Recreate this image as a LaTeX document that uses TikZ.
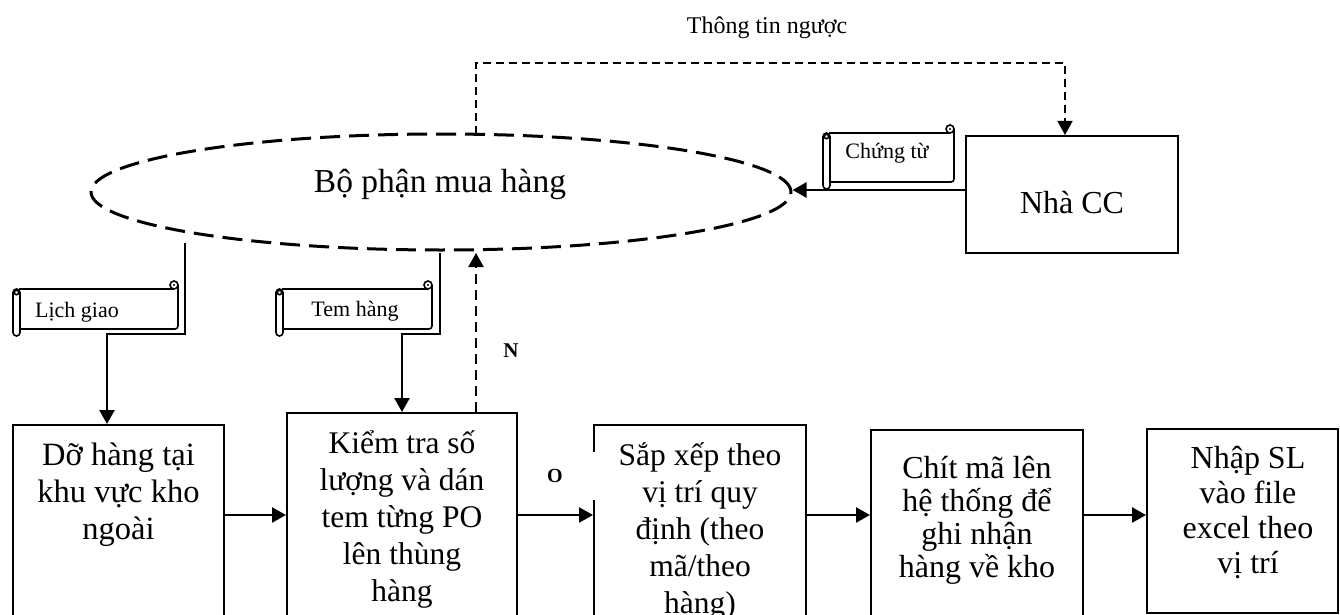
\documentclass[tikz,border=0pt]{standalone}
\usepackage{fontspec}
\setmainfont{Liberation Serif}
\usetikzlibrary{arrows.meta,shapes.geometric}
\newcommand\mlines[1]{\vtop{\lineskiplimit=-100pt\halign{\hfil##\hfil\cr#1\crcr}}}
\newcommand\scrollshape[4]{%
  \draw[scr] (#1+6,#2) -- (#3-4,#2);
  \draw[scr] (#3-4,#2-4) circle[radius=4];
  \fill (#3-4,#2-4) circle[radius=1.2];
  \draw[scr,rounded corners=3] (#3,#2-4) -- (#3,#4) -- (#1+7,#4);
  \draw[scr,rounded corners=3.5] (#1,#2) rectangle (#1+7,#4+7);
  \draw[scr] (#1+3.5,#2+3.5) circle[radius=2.2];
}
\begin{document}
\begin{tikzpicture}[x=1pt,y=-1pt,
  box/.style={draw,line width=2pt,inner sep=0pt,rectangle},
  txt/.style={anchor=base,inner sep=0pt},
  bigf/.style={font=\fontsize{31.5}{37}\selectfont},
  smallf/.style={font=\fontsize{22}{26}\selectfont},
  arr/.style={line width=2.5pt,-{Triangle[length=14pt,width=15pt]}},
  narr/.style={line width=2pt,dash pattern=on 10pt off 6pt,-{Triangle[length=14pt,width=15pt]}},
  fb/.style={line width=1.5pt,dash pattern=on 8pt off 5pt,-{Triangle[length=14pt,width=15pt]}},
  scr/.style={line width=1.6pt},
  ell/.style={draw,ellipse,line width=3pt,dash pattern=on 20pt off 9pt,inner sep=0pt}]
\useasboundingbox (0,0) rectangle (1340,615);

% main nodes
\node[ell,minimum width=700,minimum height=116] (dept) at (441,192) {};
\node[txt,font=\fontsize{33.5}{38}\selectfont] (deptt) at (440,192) {Bộ phận mua hàng};
\node[box,minimum width=212,minimum height=117] (ncc) at (1072,194.5) {};
\node[txt,font=\fontsize{32}{38}\selectfont] (ncct) at (1072,213) {Nhà CC};

\node[box,minimum width=211,minimum height=215] (b1) at (118.5,532.5) {};
\node[box,minimum width=230,minimum height=227] (b2) at (402,526.5) {};
\node[box,minimum width=212,minimum height=215] (b3) at (700,532.5) {};
\fill[white] (589,452) rectangle (599,500);
\node[box,minimum width=212,minimum height=210] (b4) at (977,535) {};
\node[box,minimum width=191,minimum height=184] (b5) at (1242.5,521) {};

\node[txt,font=\fontsize{32.5}{37}\selectfont] (t1) at (118.5,465) {\mlines{Dỡ hàng tại\cr khu vực kho\cr ngoài}};
\node[txt,bigf] (t2) at (402,453) {\mlines{Kiểm tra số\cr lượng và dán\cr tem từng PO\cr lên thùng\cr hàng}};
\node[txt,bigf] (t3) at (700,465) {\mlines{Sắp xếp theo\cr vị trí quy\cr định (theo\cr mã/theo\cr hàng)}};
\node[txt,font=\fontsize{32}{33}\selectfont] (t4) at (977,478) {\mlines{Chít mã lên\cr hệ thống để\cr ghi nhận\cr hàng về kho}};
\node[txt,font=\fontsize{32}{35}\selectfont] (t5) at (1248,468) {\mlines{Nhập SL\cr vào file\cr excel theo\cr vị trí}};

% scrolls
\scrollshape{13}{289}{178}{329}
\node[txt,smallf] (lich) at (77,317) {Lịch giao};
\scrollshape{276}{289}{432}{329}
\node[txt,smallf] (tem) at (355,316) {Tem hàng};
\scrollshape{823}{133}{954}{182}
\node[txt,smallf] (ctu) at (887,158) {Chứng từ};

% labels
\node[txt,font=\fontsize{24}{28}\selectfont] (fbt) at (767,34) {Thông tin ngược};
\node[txt,font=\bfseries\fontsize{21}{25}\selectfont] (nl) at (511,357) {N};
\node[txt,font=\bfseries\fontsize{20}{24}\selectfont] (ol) at (555,482) {O};

% connectors
\coordinate (cy) at (0,190);
\draw[arr] (ncc.west |- cy) -- (dept.east |- cy);

\coordinate (fs) at (476,134);
\coordinate (fe) at (1065,63);
\draw[fb] (fs) |- (fe) -- (fe |- ncc.north);

\coordinate (c1) at (185,243);
\coordinate (j1) at (107,334);
\draw[arr] (c1) |- (j1) -- (j1 |- b1.north);

\coordinate (c2) at (440,253);
\coordinate (j2) at (402,334);
\draw[arr] (c2) |- (j2) -- (b2.north);

\coordinate (nn) at (476,253);
\draw[narr] (nn |- b2.north) -- (nn);

\coordinate (ay) at (0,515);
\draw[arr] (b1.east |- ay) -- (b2.west |- ay);
\draw[arr] (b2.east |- ay) -- (b3.west |- ay);
\draw[arr] (b3.east |- ay) -- (b4.west |- ay);
\draw[arr] (b4.east |- ay) -- (b5.west |- ay);
\end{tikzpicture}
\end{document}
